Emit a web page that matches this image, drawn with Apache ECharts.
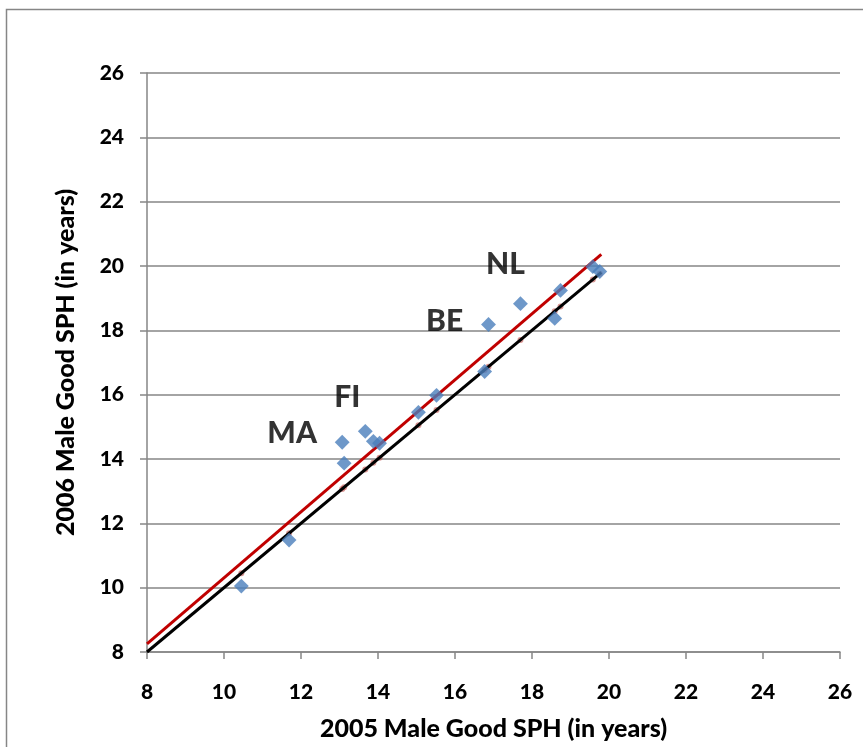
<!DOCTYPE html>
<html>
<head>
<meta charset="utf-8">
<script src="https://cdn.jsdelivr.net/npm/echarts@6/dist/echarts.min.js"></script>
<style>
html,body{margin:0;padding:0;background:#fff;}
#chart{width:863px;height:747px;}
</style>
</head>
<body>
<div id="chart"></div>
<script>
// Data
const male2005 = [10.45, 11.69, 13.07, 13.12, 13.67, 13.88, 14.04, 15.05, 15.52, 16.77, 16.87, 17.70, 18.59, 18.74, 19.58, 19.76];
const male2006 = [10.05, 11.48, 14.52, 13.87, 14.86, 14.55, 14.49, 15.45, 15.98, 16.72, 18.18, 18.83, 18.37, 19.24, 19.98, 19.83];
const regressionX = [8, 19.8];
const regressionY = [8.25, 20.36];
const identityX = [8, 19.8];
const identityY = [8, 19.8];
const countryLabels = ['MA', 'FI', 'BE', 'NL'];
const countryLabelX = [11.77, 13.2, 15.73, 17.31];
const countryLabelY = [14.8, 15.92, 18.28, 20.05];
const axisTicks = [8, 10, 12, 14, 16, 18, 20, 22, 24, 26];

const FONT = 'Lato';
const chart = echarts.init(document.getElementById('chart'), null, {renderer: 'canvas'});

const pointsData = male2005.map((x, i) => [x, male2006[i]]);
const onLineData = male2005.map(x => [x, x]);
const regData = regressionX.map((x, i) => [x, regressionY[i]]);
const idData = identityX.map((x, i) => [x, identityY[i]]);
const labelData = countryLabels.map((t, i) => ({value: [countryLabelX[i], countryLabelY[i]], name: t}));

const axisCommon = {
  type: 'value',
  min: axisTicks[0],
  max: axisTicks[axisTicks.length - 1],
  interval: 2,
  axisLine: {show: true, lineStyle: {color: '#868686', width: 1.5}},
  axisTick: {show: true, length: 7, lineStyle: {color: '#868686', width: 1.5}},
  axisLabel: {color: '#000', fontFamily: FONT, fontWeight: 900, fontSize: 21},
  nameLocation: 'middle',
  nameTextStyle: {color: '#000', fontFamily: FONT, fontWeight: 900, fontSize: 25}
};

chart.setOption({
  animation: false,
  backgroundColor: '#fff',
  graphic: [{
    type: 'rect',
    shape: {x: 6.5, y: 9.5, width: 900, height: 800},
    style: {fill: 'none', stroke: '#868686', lineWidth: 1.5},
    silent: true
  }],
  grid: {left: 147, right: 23, top: 73, bottom: 95, outerBoundsMode: 'none', containLabel: false},
  xAxis: Object.assign({}, axisCommon, {
    name: '2005 Male Good SPH (in years)',
    nameGap: 64,
    splitLine: {show: false},
    axisLabel: Object.assign({}, axisCommon.axisLabel, {margin: 30})
  }),
  yAxis: Object.assign({}, axisCommon, {
    name: '2006 Male Good SPH (in years)',
    nameGap: 69,
    splitLine: {show: true, lineStyle: {color: '#868686', width: 1.5}},
    axisLabel: Object.assign({}, axisCommon.axisLabel, {margin: 23})
  }),
  series: [
    {
      type: 'scatter',
      data: onLineData,
      symbol: 'circle',
      symbolSize: 6,
      itemStyle: {color: 'rgba(192,80,77,0.75)'},
      z: 1
    },
    {
      type: 'line',
      data: idData,
      symbol: 'none',
      lineStyle: {color: '#000', width: 3},
      z: 2
    },
    {
      type: 'line',
      data: regData,
      symbol: 'none',
      lineStyle: {color: '#c00000', width: 3},
      z: 3
    },
    {
      type: 'scatter',
      data: pointsData,
      symbol: 'rect',
      symbolRotate: 45,
      symbolSize: 10.5,
      itemStyle: {color: '#4a7ebb'},
      z: 4
    },
    {
      type: 'scatter',
      data: labelData,
      symbolSize: 0,
      label: {
        show: true,
        position: 'inside',
        formatter: p => p.name,
        color: '#000',
        fontFamily: FONT,
        fontWeight: 900,
        fontSize: 30
      },
      z: 5
    }
  ]
});
</script>
</body>
</html>
